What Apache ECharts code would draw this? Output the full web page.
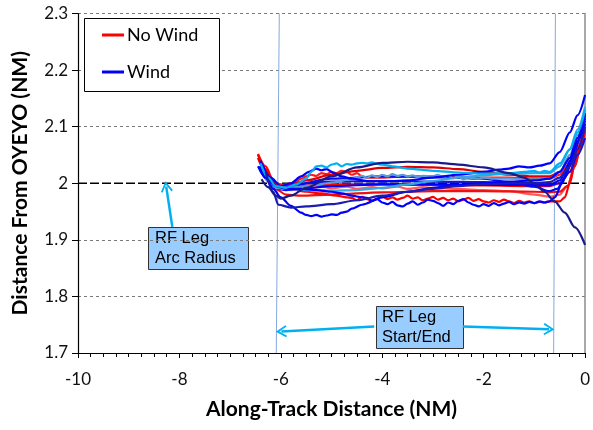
<!DOCTYPE html>
<html>
<head>
<meta charset="utf-8">
<script src="https://cdn.jsdelivr.net/npm/echarts@6/dist/echarts.min.js"></script>
<style>
  html, body { margin: 0; padding: 0; background: #fff; }
  #chart { width: 593px; height: 430px; }
</style>
</head>
<body>
<div id="chart"></div>
<script>
// Along-track distance (NM) vs distance from OYEYO (NM), RF leg tracks

// ---- No Wind tracks ----
const redArch = [[-6.45,2.045],[-6.3,2.02],[-6.15,2.0],[-6.0,1.995],[-5.8,1.998],[-5.5,2.005],[-5.0,2.015],[-4.5,2.022],[-4.0,2.027],[-3.5,2.029],[-3.0,2.028],[-2.5,2.025],[-2.0,2.02],[-1.5,2.015],[-1.0,2.012],[-0.7,2.012],[-0.5,2.02],[-0.3,2.045],[-0.15,2.075],[0,2.11]];
const redUpper = [[-6.4,2.04],[-6.25,2.015],[-6.1,2.0],[-5.95,1.997],[-5.8,2.0],[-5.7,2.004],[-5.6,2.008],[-5.5,2.012],[-5.4,2.015],[-5.3,2.013],[-5.2,2.018],[-5.1,2.016],[-5.0,2.02],[-4.9,2.018],[-4.8,2.022],[-4.7,2.02],[-4.6,2.015],[-4.5,2.018],[-4.4,2.012],[-4.3,2.01],[-4.0,2.01],[-3.5,2.012],[-3.0,2.012],[-2.5,2.011],[-2.0,2.01],[-1.5,2.01],[-1.0,2.008],[-0.7,2.008],[-0.5,2.015],[-0.3,2.035],[-0.15,2.07],[0,2.1]];
const redMid = [[-6.45,2.05],[-6.3,2.025],[-6.15,2.003],[-6.0,1.99],[-5.8,1.992],[-5.5,1.996],[-5.0,1.998],[-4.0,1.998],[-3.0,1.997],[-2.0,1.996],[-1.0,1.995],[-0.7,1.995],[-0.5,2.0],[-0.3,2.02],[-0.15,2.055],[0,2.095]];
const redLight = [[-6.42,2.045],[-6.3,2.02],[-6.15,2.0],[-6.0,1.99],[-5.8,1.988],[-5.5,1.99],[-5.2,1.994],[-5.0,1.991],[-4.7,1.994],[-4.5,1.99],[-4.2,1.993],[-4.0,1.991],[-3.7,1.994],[-3.5,1.99],[-3.2,1.993],[-3.0,1.992],[-2.5,1.99],[-2.0,1.988],[-1.5,1.986],[-1.0,1.98],[-0.7,1.976],[-0.5,1.98],[-0.35,1.995],[-0.2,2.03],[-0.1,2.065],[0,2.1]];
const redLowSmooth = [[-6.4,2.038],[-6.25,2.01],[-6.1,1.99],[-5.9,1.98],[-5.6,1.978],[-5.0,1.98],[-4.0,1.984],[-3.0,1.986],[-2.0,1.986],[-1.0,1.985],[-0.7,1.984],[-0.5,1.985],[-0.35,1.995],[-0.2,2.03],[-0.1,2.06],[0,2.09]];
const redLow = [[-6.45,2.052],[-6.3,2.03],[-6.15,2.005],[-6.0,1.993],[-5.8,1.99],[-5.5,1.985],[-5.2,1.982],[-4.9,1.978],[-4.7,1.975],[-4.6,1.974],[-4.5,1.97],[-4.4,1.976],[-4.3,1.972],[-4.2,1.969],[-4.1,1.973],[-4.0,1.977],[-3.9,1.972],[-3.8,1.975],[-3.7,1.971],[-3.6,1.974],[-3.5,1.978],[-3.4,1.973],[-3.3,1.975],[-3.2,1.97],[-3.1,1.973],[-3.0,1.976],[-2.9,1.971],[-2.8,1.974],[-2.7,1.97],[-2.6,1.973],[-2.5,1.968],[-2.4,1.971],[-2.3,1.974],[-2.2,1.969],[-2.1,1.972],[-2.0,1.968],[-1.9,1.966],[-1.8,1.97],[-1.7,1.967],[-1.6,1.971],[-1.5,1.968],[-1.4,1.965],[-1.3,1.969],[-1.2,1.966],[-1.1,1.968],[-1.0,1.965],[-0.9,1.967],[-0.8,1.966],[-0.7,1.968],[-0.5,1.968],[-0.4,1.975],[-0.3,2.0],[-0.2,2.035],[-0.1,2.07],[0,2.094]];

// ---- Wind tracks ----
const blueTop = [[-6.4,2.04],[-6.2,2.01],[-6.0,1.995],[-5.8,2.0],[-5.6,2.012],[-5.45,2.02],[-5.3,2.026],[-5.2,2.023],[-5.1,2.025],[-4.95,2.018],[-4.8,2.012],[-4.6,2.008],[-4.3,2.004],[-4.0,2.003],[-3.5,2.005],[-3.0,2.01],[-2.5,2.015],[-2.0,2.02],[-1.7,2.024],[-1.5,2.026],[-1.3,2.03],[-1.1,2.028],[-0.9,2.031],[-0.7,2.035],[-0.5,2.055],[-0.3,2.09],[-0.15,2.12],[0,2.156]];
const blueMid = [[-6.35,2.03],[-6.2,2.005],[-6.05,1.99],[-5.9,1.988],[-5.6,1.99],[-5.0,1.995],[-4.0,1.998],[-3.0,1.998],[-2.0,1.997],[-1.0,1.997],[-0.7,1.996],[-0.5,2.005],[-0.3,2.035],[-0.15,2.075],[0,2.115]];
const blueFlat = [[-6.4,2.022],[-6.2,2.0],[-6.0,1.99],[-5.8,1.994],[-5.5,2.0],[-5.0,2.003],[-4.0,2.004],[-3.0,2.003],[-2.0,2.002],[-1.0,2.0],[-0.7,1.998],[-0.5,2.0],[-0.3,2.02],[-0.15,2.05],[0,2.08]];
const blueSag = [[-6.3,2.015],[-6.15,1.995],[-6.0,1.99],[-5.7,1.998],[-5.0,2.008],[-4.0,2.012],[-3.0,2.011],[-2.0,2.008],[-1.5,2.002],[-1.0,1.994],[-0.7,1.986],[-0.55,1.99],[-0.4,2.01],[-0.25,2.04],[-0.1,2.08],[0,2.105]];
const blueDip = [[-6.42,2.03],[-6.3,2.01],[-6.15,1.99],[-6.0,1.975],[-5.8,1.96],[-5.6,1.948],[-5.5,1.944],[-5.4,1.942],[-5.3,1.944],[-5.2,1.941],[-5.1,1.943],[-5.0,1.945],[-4.9,1.944],[-4.8,1.948],[-4.7,1.95],[-4.6,1.955],[-4.4,1.962],[-4.0,1.975],[-3.5,1.985],[-3.0,1.992],[-2.5,1.997],[-2.0,2.0],[-1.5,2.003],[-1.0,2.005],[-0.7,2.008],[-0.5,2.02],[-0.3,2.045],[-0.15,2.08],[0,2.12]];
const blueLow = [[-6.45,2.03],[-6.3,2.01],[-6.1,1.995],[-5.9,1.99],[-5.6,1.99],[-5.3,1.988],[-5.0,1.985],[-4.8,1.982],[-4.6,1.978],[-4.4,1.975],[-4.3,1.974],[-4.2,1.969],[-4.1,1.972],[-4.0,1.966],[-3.9,1.963],[-3.8,1.967],[-3.7,1.961],[-3.6,1.959],[-3.5,1.964],[-3.4,1.968],[-3.3,1.962],[-3.2,1.966],[-3.1,1.971],[-3.0,1.969],[-2.9,1.965],[-2.8,1.96],[-2.7,1.966],[-2.6,1.963],[-2.5,1.969],[-2.4,1.972],[-2.3,1.966],[-2.2,1.962],[-2.1,1.959],[-2.0,1.963],[-1.9,1.96],[-1.8,1.965],[-1.7,1.961],[-1.6,1.964],[-1.5,1.967],[-1.4,1.963],[-1.3,1.966],[-1.2,1.964],[-1.1,1.967],[-1.0,1.965],[-0.9,1.968],[-0.8,1.966],[-0.7,1.968],[-0.6,1.975],[-0.45,2.0],[-0.3,2.04],[-0.15,2.08],[0,2.124]];
const cyanTop = [[-6.4,2.035],[-6.25,2.01],[-6.1,1.995],[-5.9,1.992],[-5.7,1.998],[-5.5,2.008],[-5.4,2.02],[-5.3,2.03],[-5.2,2.031],[-5.1,2.028],[-5.0,2.033],[-4.9,2.035],[-4.8,2.03],[-4.7,2.034],[-4.6,2.033],[-4.5,2.035],[-4.4,2.036],[-4.3,2.035],[-4.2,2.037],[-4.1,2.034],[-4.0,2.033],[-3.8,2.03],[-3.5,2.026],[-3.0,2.022],[-2.5,2.019],[-2.0,2.017],[-1.5,2.018],[-1.2,2.02],[-1.0,2.022],[-0.9,2.019],[-0.8,2.022],[-0.7,2.02],[-0.5,2.035],[-0.3,2.06],[-0.15,2.09],[0,2.13]];
const cyanRise = [[-6.4,2.03],[-6.25,2.005],[-6.1,1.993],[-5.9,1.99],[-5.5,1.988],[-5.0,1.987],[-4.5,1.988],[-4.0,1.992],[-3.5,1.998],[-3.0,2.004],[-2.5,2.01],[-2.0,2.014],[-1.5,2.017],[-1.0,2.018],[-0.7,2.018],[-0.5,2.03],[-0.3,2.06],[-0.15,2.095],[0,2.135]];
const steelWavy = [[-6.4,2.03],[-6.25,2.005],[-6.1,1.992],[-5.9,1.99],[-5.7,1.993],[-5.5,1.995],[-5.3,1.997],[-5.1,2.0],[-4.9,2.002],[-4.7,2.006],[-4.5,2.01],[-4.4,2.013],[-4.3,2.01],[-4.2,2.014],[-4.1,2.011],[-4.0,2.015],[-3.9,2.012],[-3.8,2.016],[-3.7,2.013],[-3.6,2.015],[-3.5,2.012],[-3.4,2.014],[-3.3,2.011],[-3.2,2.013],[-3.0,2.012],[-2.9,2.015],[-2.8,2.01],[-2.7,2.013],[-2.6,2.009],[-2.5,2.012],[-2.4,2.007],[-2.3,2.01],[-2.1,2.008],[-2.0,2.01],[-1.8,2.008],[-1.5,2.008],[-1.2,2.007],[-1.0,2.007],[-0.7,2.008],[-0.5,2.02],[-0.3,2.05],[-0.15,2.085],[0,2.12]];
const navyLow = [[-6.3,2.02],[-6.15,1.985],[-6.05,1.962],[-5.8,1.957],[-5.5,1.959],[-5.0,1.963],[-4.5,1.97],[-4.0,1.978],[-3.5,1.985],[-3.0,1.99],[-2.5,1.995],[-2.0,1.998],[-1.5,2.0],[-1.0,2.0],[-0.7,2.002],[-0.5,2.01],[-0.3,2.03],[-0.15,2.06],[0,2.1]];
const navyArch = [[-6.38,2.007],[-6.25,1.993],[-6.1,1.978],[-6.0,1.973],[-5.8,1.978],[-5.5,1.992],[-5.0,2.012],[-4.5,2.028],[-4.0,2.036],[-3.5,2.038],[-3.0,2.037],[-2.5,2.033],[-2.0,2.028],[-1.5,2.018],[-1.2,2.01],[-1.0,2.0],[-0.8,1.985],[-0.6,1.968],[-0.4,1.948],[-0.2,1.922],[0,1.891]];

// ---- Reference geometry ----
const arcRadius = 2.0;
const xRange = [-10, 0];
const yRange = [1.7, 2.3];
const rfStartLine = [[-6.03, 2.3], [-6.09, 1.7]];
const rfEndLine = [[-0.585, 2.3], [-0.62, 1.7]];
const arcArrow = [[-8.14, 1.923], [-8.26, 1.994]];
const startArrow = [[-4.157, 1.7467], [-5.99, 1.738]];
const endArrow = [[-2.412, 1.7467], [-0.712, 1.742]];

const NO_WIND = 'No Wind';
const WIND = 'Wind';

const tracks = [
  { name: NO_WIND, data: redLight, color: '#ff5a5a' },
  { name: NO_WIND, data: redLowSmooth, color: '#f01010' },
  { name: NO_WIND, data: redMid, color: '#ff0000' },
  { name: NO_WIND, data: redUpper, color: '#ff1a1a' },
  { name: NO_WIND, data: redArch, color: '#e00000' },
  { name: NO_WIND, data: redLow, color: '#ff0000' },
  { name: WIND, data: blueFlat, color: '#1515d8' },
  { name: WIND, data: blueMid, color: '#0000ff' },
  { name: WIND, data: blueSag, color: '#0a0af0' },
  { name: WIND, data: cyanRise, color: '#33a6e6' },
  { name: WIND, data: steelWavy, color: '#5b9bd5' },
  { name: WIND, data: blueDip, color: '#0000ff' },
  { name: WIND, data: blueLow, color: '#0000ff' },
  { name: WIND, data: blueTop, color: '#0000ff' },
  { name: WIND, data: cyanTop, color: '#00b0f0' },
  { name: WIND, data: navyLow, color: '#1c1cb0' },
  { name: WIND, data: navyArch, color: '#1a1a8a' }
];

const chevron = 'path://M0,0 L6,9 L4.6,10 L0,3.2 L-4.6,10 L-6,9 Z';
const arrowColor = '#00b0f0';
const labelFont = 'Lato, "Open Sans", sans-serif';
const boxFont = '"Liberation Sans", Arial, sans-serif';

const series = tracks.map(t => ({
  type: 'line',
  name: t.name,
  data: t.data,
  showSymbol: false,
  smooth: 0.3,
  smoothMonotone: 'x',
  color: t.color,
  lineStyle: { color: t.color, width: 2.2 },
  z: 3
}));

series.unshift({
  type: 'line',
  name: 'arc',
  data: [[xRange[0], arcRadius], [xRange[1], arcRadius]],
  showSymbol: false,
  lineStyle: { color: '#000', width: 1.3, type: [9, 3] },
  z: 2,
  markLine: {
    silent: true,
    symbol: ['none', chevron],
    symbolSize: [12, 11],
    label: { show: false },
    lineStyle: { color: arrowColor, width: 2.5, type: 'solid' },
    data: [
      [{ coord: arcArrow[0] }, { coord: arcArrow[1] }],
      [{ coord: startArrow[0] }, { coord: startArrow[1] }],
      [{ coord: endArrow[0] }, { coord: endArrow[1] }]
    ]
  }
});
series.unshift({
  type: 'line', name: 'rfStart', data: rfStartLine, showSymbol: false,
  lineStyle: { color: '#86a8dc', width: 1 }, z: 1
});
series.unshift({
  type: 'line', name: 'rfEnd', data: rfEndLine, showSymbol: false,
  lineStyle: { color: '#86a8dc', width: 1 }, z: 1
});

const chart = echarts.init(document.getElementById('chart'));
chart.setOption({
  animation: false,
  backgroundColor: '#fff',
  grid: { left: 78, right: 6, top: 13.5, bottom: 77 },
  xAxis: {
    type: 'value',
    min: xRange[0], max: xRange[1], interval: 2,
    name: 'Along-Track Distance (NM)',
    nameLocation: 'middle',
    nameGap: 46,
    nameTextStyle: { fontFamily: labelFont, fontWeight: 'bold', fontSize: 21, color: '#000' },
    axisLine: { onZero: false, lineStyle: { color: '#000', width: 1.2 } },
    axisTick: { show: true, inside: false, length: 5, lineStyle: { color: '#000' } },
    minorTick: { show: true, splitNumber: 8, length: 4, lineStyle: { color: '#000' } },
    axisLabel: { fontFamily: labelFont, fontSize: 17, color: '#111', margin: 18 },
    splitLine: { show: false }
  },
  yAxis: [{
    type: 'value',
    min: yRange[0], max: yRange[1], interval: 0.1,
    name: 'Distance From OYEYO (NM)',
    nameLocation: 'middle',
    nameGap: 47,
    nameTextStyle: { fontFamily: labelFont, fontWeight: 'bold', fontSize: 21, color: '#000' },
    axisLine: { onZero: false, lineStyle: { color: '#000', width: 1.2 } },
    axisTick: { show: true, inside: false, length: 6, lineStyle: { color: '#000' } },
    axisLabel: { fontFamily: labelFont, fontSize: 17, color: '#111', margin: 10 },
    splitLine: { show: true, lineStyle: { color: '#7a7a7a', width: 1, type: [3, 3] } }
  }, {
    type: 'value',
    position: 'right',
    min: yRange[0], max: yRange[1], interval: 0.1,
    axisLine: { show: true, onZero: false, lineStyle: { color: '#8c8c8c', width: 1.5 } },
    axisTick: { show: false },
    axisLabel: { show: false },
    splitLine: { show: false }
  }],
  legend: {
    data: [
      { name: NO_WIND, itemStyle: { color: '#ff0000' }, lineStyle: { color: '#ff0000' } },
      { name: WIND, itemStyle: { color: '#0000ff' }, lineStyle: { color: '#0000ff' } }
    ],
    left: 97,
    top: 21,
    orient: 'vertical',
    icon: 'rect',
    itemWidth: 22,
    itemHeight: 3,
    itemGap: 19,
    z: 20,
    textStyle: { fontFamily: labelFont, fontSize: 18, color: '#000', padding: [0, 0, 0, -2] },
    selectedMode: false
  },
  graphic: [
    {
      type: 'rect', z: 15,
      shape: { x: 84.5, y: 18.5, width: 135, height: 73 },
      style: { fill: '#fff', stroke: '#000', lineWidth: 1 }
    },
    {
      type: 'group', z: 15,
      children: [
        { type: 'rect', shape: { x: 148.5, y: 227.5, width: 100, height: 42 },
          style: { fill: '#99ccff', stroke: '#333', lineWidth: 1 } },
        { type: 'text', x: 155, y: 228,
          style: { text: 'RF Leg\nArc Radius', fontFamily: boxFont, fontSize: 16.5, lineHeight: 20, fill: '#000' } }
      ]
    },
    {
      type: 'group', z: 15,
      children: [
        { type: 'rect', shape: { x: 376.5, y: 306.5, width: 87, height: 42 },
          style: { fill: '#99ccff', stroke: '#333', lineWidth: 1 } },
        { type: 'text', x: 382, y: 307,
          style: { text: 'RF Leg\nStart/End', fontFamily: boxFont, fontSize: 16.5, lineHeight: 20, fill: '#000' } }
      ]
    }
  ],
  series: series
});
</script>
</body>
</html>
